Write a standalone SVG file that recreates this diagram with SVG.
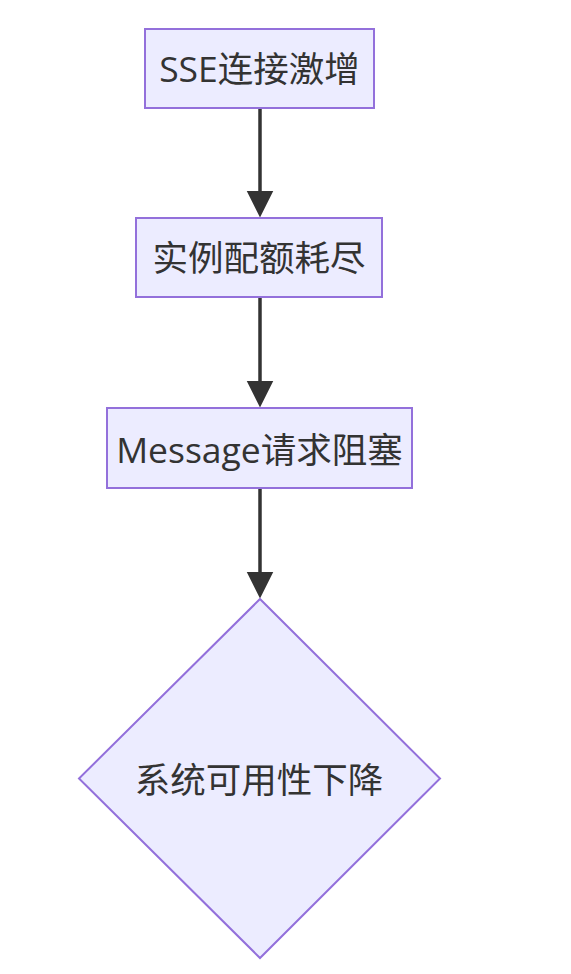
<svg xmlns="http://www.w3.org/2000/svg" width="571" height="974" viewBox="0 0 571 974">
<style>
.node rect, .node polygon { fill: #ECECFF; stroke: #9370DB; stroke-width: 2; }
.node text { font-family: "Open Sans", "Noto Sans CJK SC", sans-serif; font-size: 35.5px; fill: #333333; text-anchor: middle; }
.edge { stroke: #333333; stroke-width: 3.5; fill: none; }
</style>
<defs>
<marker id="arrow" markerUnits="userSpaceOnUse" viewBox="0 0 10 10" refX="5" refY="5" markerWidth="27" markerHeight="28" orient="auto">
<path d="M0,0 L10,5 L0,10 z" fill="#333333"/>
</marker>
</defs>
<rect width="571" height="974" fill="#ffffff"/>
<g id="connectors">
<line class="edge" x1="260" y1="108" x2="260" y2="204" marker-end="url(#arrow)"/>
<line class="edge" x1="260" y1="297" x2="260" y2="394" marker-end="url(#arrow)"/>
<line class="edge" x1="260" y1="488" x2="260" y2="585" marker-end="url(#arrow)"/>
</g>
<g id="n1" class="node">
<rect x="145" y="29" width="229" height="79"/>
<text x="259.5" y="82">SSE连接激增</text>
</g>
<g id="n2" class="node">
<rect x="136" y="218" width="246" height="79"/>
<text x="259" y="271">实例配额耗尽</text>
</g>
<g id="n3" class="node">
<rect x="107" y="408" width="305" height="80"/>
<text x="259.5" y="463">Message请求阻塞</text>
</g>
<g id="n4" class="node">
<polygon points="260,599 440,778.5 260,958 79,778.5"/>
<text x="259" y="793">系统可用性下降</text>
</g>
</svg>
